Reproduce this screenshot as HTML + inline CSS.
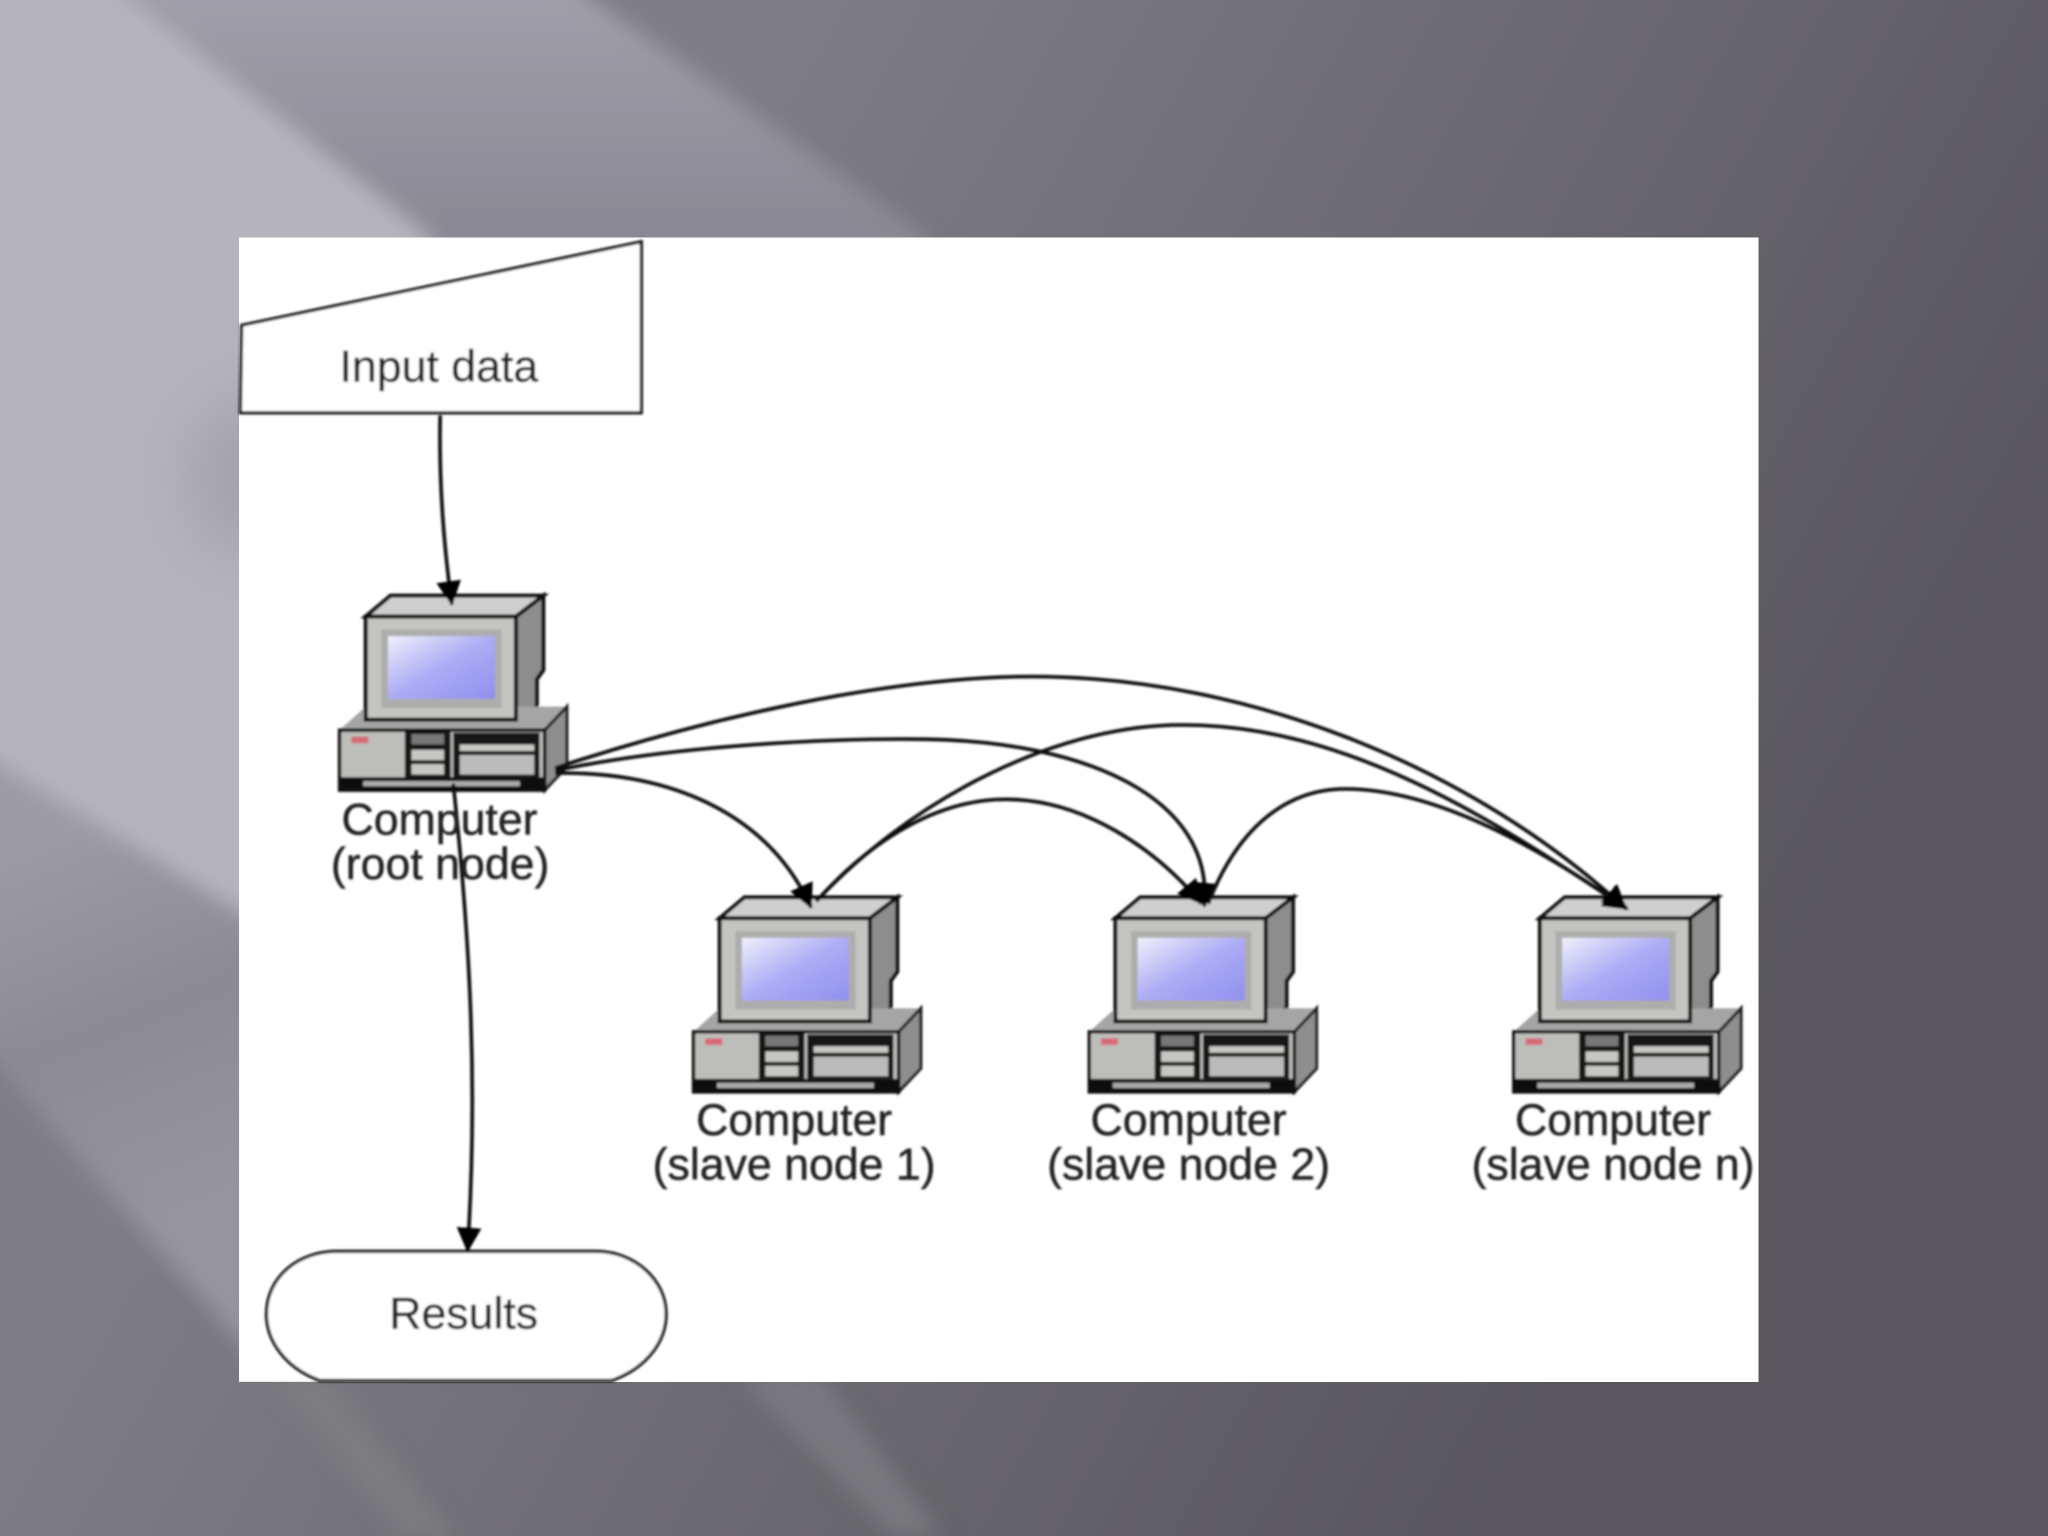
<!DOCTYPE html>
<html><head><meta charset="utf-8"><title>Diagram</title>
<style>html,body{margin:0;padding:0;background:#666}svg{display:block}text{font-family:"Liberation Sans",Arial,sans-serif;fill:#222;font-size:34.2px;text-anchor:middle;stroke:#222;stroke-width:.35px}</style></head>
<body>
<svg xmlns="http://www.w3.org/2000/svg" width="2048" height="1536" viewBox="0 0 1568 1176">
<defs>
<linearGradient id="bg" gradientUnits="userSpaceOnUse" x1="600" y1="0" x2="1500" y2="500">
<stop offset="0" stop-color="#807e85"/><stop offset="1" stop-color="#59575d"/></linearGradient>
<linearGradient id="bandB" gradientUnits="userSpaceOnUse" x1="0" y1="0" x2="0" y2="182"><stop offset="0" stop-color="#a19fa9"/><stop offset="1" stop-color="#8a8892"/></linearGradient>
<linearGradient id="bandC" gradientUnits="userSpaceOnUse" x1="40" y1="640" x2="150" y2="920"><stop offset="0" stop-color="#9d9ba3"/><stop offset=".5" stop-color="#8c8a92"/><stop offset="1" stop-color="#96949c"/></linearGradient>
<linearGradient id="scr" x1="0" y1="0" x2="1" y2="1"><stop offset="0" stop-color="#f0f0fc"/><stop offset=".5" stop-color="#acacf5"/><stop offset="1" stop-color="#9090f0"/></linearGradient>
<filter id="b3" x="-10%" y="-10%" width="120%" height="120%"><feGaussianBlur stdDeviation="8"/></filter>
<filter id="b20" x="-80%" y="-80%" width="260%" height="260%"><feGaussianBlur stdDeviation="26"/></filter>
<filter id="b1" x="-5%" y="-5%" width="110%" height="110%"><feGaussianBlur stdDeviation="0.8"/></filter>
<marker id="a" viewBox="0 0 20 20" refX="19" refY="10" markerWidth="19" markerHeight="19" orient="auto" markerUnits="userSpaceOnUse"><path d="M0 0L20 10L0 20Z" fill="#000"/></marker>
<g id="pc">
<path d="M280 472L299 456H416V513L412 520V541H434V587L417 605H260V559L280 541Z" fill="#999"/>
<path d="M280 472L299 456H416L395 472Z" fill="#cfcfcf" stroke="#0c0c0c" stroke-width="3"/>
<path d="M395 472L416 456V513L411 520V541L395 551Z" fill="#8d8d8d" stroke="#0c0c0c" stroke-width="3"/>
<path d="M260 559L280 541H412L434 541L417 559Z" fill="#a5a5a5"/>
<path d="M417 559L434 541V587L417 605Z" fill="#8e8e8e" stroke="#222" stroke-width="2.4"/>
<rect x="280" y="472" width="115" height="79" fill="#c4c4c0" stroke="#0c0c0c" stroke-width="3"/>
<rect x="292" y="482" width="92" height="60" fill="#adadad"/>
<rect x="297" y="487" width="82" height="48" fill="url(#scr)"/>
<rect x="260" y="559" width="157" height="46" fill="#bdbdb9" stroke="#0a0a0a" stroke-width="2.6"/>
<rect x="269" y="564" width="13" height="5" fill="#d86a78"/>
<rect x="310" y="560" width="35" height="35" fill="#151515"/>
<rect x="315" y="562" width="25" height="8" fill="#777"/><rect x="315" y="574" width="25" height="8" fill="#c6c6c2"/><rect x="315" y="585" width="25" height="8" fill="#c6c6c2"/>
<rect x="347" y="561" width="66" height="34" fill="#151515"/>
<rect x="352" y="570" width="57" height="5" fill="#c8c8c4"/><rect x="352" y="578" width="57" height="15" fill="#bbb"/>
<rect x="260" y="595" width="157" height="10" fill="#101010"/>
<rect x="278" y="598" width="120" height="4" fill="#aaa"/>
</g>
</defs>
<rect width="1568" height="1176" fill="url(#bg)"/>
<g filter="url(#b3)">
<path d="M50 -60H370L710 182L720 320L330 320Z" fill="url(#bandB)"/>
<path d="M-60 548L0 585L200 707L200 1046L0 817L-60 750Z" fill="url(#bandC)"/>
<path d="M-60 -60H50L100 0L330 182L340 800L183 697L0 585L-60 548Z" fill="#b5b3bc"/>
<path d="M205 1052L248 1052L348 1176H308Z" fill="#807e84" opacity=".8"/>
<path d="M565 1052L628 1052L722 1176H682Z" fill="#7d7b81" opacity=".85"/>
</g>
<ellipse cx="195" cy="365" rx="50" ry="60" fill="#a3a1aa" filter="url(#b20)"/>
<rect x="183" y="182" width="1163" height="876" fill="#fff"/>
<g filter="url(#b1)">
<path d="M185 249L491 185V316H184Z" fill="#fff" stroke="#111" stroke-width="2.4"/>
<path d="M245 1057C220 1048 204 1028 204 1006C204 978 228 958 258 958H456C486 958 510 980 510 1006C510 1028 494 1048 468 1057Z" fill="#fff" stroke="#111" stroke-width="2.4"/>
<use href="#pc"/>
<use href="#pc" x="271" y="231"/>
<use href="#pc" x="574" y="231"/>
<use href="#pc" x="899" y="231"/>
<g fill="none" stroke="#0c0c0c" stroke-width="2.8">
<path d="M337 318C336 370 340 420 346 463" marker-end="url(#a)"/>
<path d="M347 600C360 720 366 830 358 958" marker-end="url(#a)"/>
<path d="M425 592C500 590 585 615 621 695" marker-end="url(#a)"/>
<path d="M425 590C520 570 640 565 710 566C830 568 930 610 922 694" marker-end="url(#a)"/>
<path d="M425 588C540 550 680 518 790 518C960 518 1130 590 1245 696" marker-end="url(#a)"/>
<path d="M625 690C690 620 800 555 905 555C1030 555 1140 625 1246 696" marker-end="url(#a)"/>
<path d="M625 690C670 640 720 612 770 612C830 612 885 650 920 692" marker-end="url(#a)"/>
<path d="M925 692C945 640 980 604 1030 604C1100 604 1180 650 1246 696" marker-end="url(#a)"/>
</g>
<text x="336" y="292">Input data</text>
<text x="336.500" y="639">Computer</text>
<text x="337" y="673">(root node)</text>
<text x="608" y="869">Computer</text>
<text x="608" y="903">(slave node 1)</text>
<text x="910" y="869">Computer</text>
<text x="910" y="903">(slave node 2)</text>
<text x="1235" y="869">Computer</text>
<text x="1235" y="903">(slave node n)</text>
<text x="355" y="1017">Results</text>
</g>
</svg>
</body></html>
